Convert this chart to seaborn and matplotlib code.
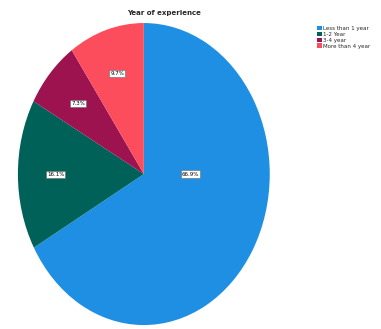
import matplotlib
matplotlib.use("Agg")
import matplotlib.pyplot as plt
import seaborn as sns

categories = ["Less than 1 year", "1-2 Year", "3-4 year", "More than 4 year"]
values = [66.9, 16.1, 7.3, 9.7]
pct_labels = ["66.9%", "16.1%", "7.3%", "9.7%"]
colors = ["#1f8fe4", "#006158", "#9c1350", "#fc4d5c"]
title = "Year of experience"

sns.set_theme(style="white")
plt.rcParams['font.family'] = ['DejaVu Sans']

fig = plt.figure(figsize=(3.81, 3.29), dpi=100)
ax = fig.add_axes([0.047, 0.012, 0.661, 0.918])
wedges, texts, autotexts = ax.pie(values, colors=colors, startangle=90, counterclock=False,
                                  autopct=lambda p: "", pctdistance=0.7,
                                  wedgeprops=dict(linewidth=0))
ax.set_aspect('auto')
ax.set_xlim(-1, 1)
ax.set_ylim(-1, 1)
for at, lab in zip(autotexts, pct_labels):
    at.set_text(lab)
    at.set_fontsize(4)
    at.set_color("black")
    at.set_bbox(dict(facecolor="white", edgecolor="#666666", linewidth=0.4, pad=0.8))
autotexts[0].set_position((0.37, 0.0))

fig.text(0.43, 0.962, title, ha="center", va="center", fontsize=5, fontweight="bold")

leg = fig.legend(wedges, categories, loc="upper left", bbox_to_anchor=(0.825, 0.93),
                 frameon=False, fontsize=4, handlelength=0.8, handleheight=0.8,
                 handletextpad=0.3, labelspacing=0.15, borderpad=0)
fig.savefig("out.png", dpi=100)
